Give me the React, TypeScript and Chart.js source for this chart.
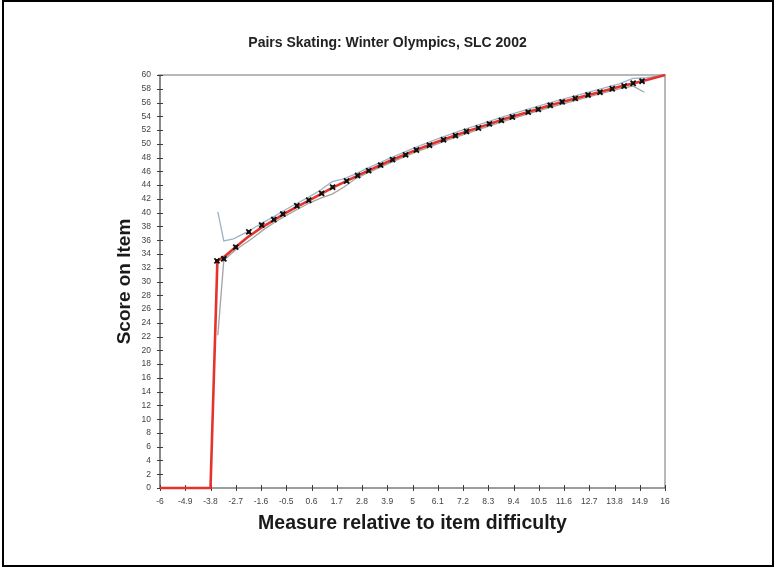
import React, { useEffect, useRef } from "react";
import { Chart, registerables } from "chart.js";

Chart.register(...registerables);

const chartTitle = "Pairs Skating: Winter Olympics, SLC 2002";
const xAxisTitle = "Measure relative to item difficulty";
const yAxisTitle = "Score on Item";

const xTickValues = [-6, -4.9, -3.8, -2.7, -1.6, -0.5, 0.6, 1.7, 2.8, 3.9, 5, 6.1, 7.2, 8.3, 9.4, 10.5, 11.6, 12.7, 13.8, 14.9, 16];
const yMin = 0;
const yMax = 60;
const yStep = 2;

// model (expected score) curve
const modelX = [-6, -3.8, -3.5, -3.2, -2.7, -2.2, -1.6, -1, -0.5, 0, 0.5, 1, 1.5, 2, 3, 4, 5, 6, 7, 8, 9, 10, 11, 12, 13, 14, 15, 16];
const modelY = [0, 0, 33.0, 33.6, 35.0, 36.4, 37.8, 39.0, 40.0, 40.9, 41.8, 42.7, 43.6, 44.4, 46.0, 47.5, 48.9, 50.2, 51.4, 52.5, 53.6, 54.6, 55.6, 56.5, 57.4, 58.3, 59.1, 60];

// observed averages
const obsX = [-3.52, -3.22, -2.7, -2.13, -1.57, -1.04, -0.65, -0.04, 0.48, 1.04, 1.52, 2.13, 2.61, 3.09, 3.61, 4.13, 4.7, 5.17, 5.74, 6.35, 6.87, 7.35, 7.87, 8.35, 8.87, 9.35, 10.04, 10.48, 11.0, 11.52, 12.09, 12.65, 13.17, 13.7, 14.22, 14.61, 15.0];
const obsY = [33.0, 33.3, 35.0, 37.2, 38.2, 39.0, 39.8, 41.0, 41.8, 42.8, 43.7, 44.6, 45.4, 46.1, 46.9, 47.7, 48.4, 49.1, 49.8, 50.6, 51.2, 51.8, 52.3, 52.9, 53.4, 53.9, 54.6, 55.0, 55.6, 56.1, 56.6, 57.1, 57.5, 58.0, 58.4, 58.8, 59.1];

// upper confidence line
const upperX = [-3.48, -3.22, -2.8, -2.2, -1.5, -1, -0.5, 0, 0.5, 1, 1.5, 2, 2.5, 3, 4, 5, 6, 7, 8, 9, 10, 11, 12, 13, 14, 14.6, 15.2, 16];
const upperY = [40.1, 35.9, 36.2, 37.2, 38.6, 39.5, 40.5, 41.4, 42.3, 43.3, 44.5, 44.9, 45.6, 46.4, 47.9, 49.3, 50.6, 51.8, 52.9, 54.0, 55.0, 56.0, 56.9, 57.8, 58.7, 59.5, 59.6, 60];

// lower confidence line
const lowerX = [-3.48, -3.22, -2.7, -2, -1.5, -1, -0.5, 0, 0.5, 1, 1.5, 2, 2.5, 3, 4, 5, 6, 7, 8, 9, 10, 11, 12, 13, 14, 14.6, 15.1];
const lowerY = [22.2, 33.1, 34.6, 36.2, 37.5, 38.6, 39.6, 40.5, 41.4, 42.1, 42.7, 43.7, 44.9, 45.7, 47.2, 48.6, 49.9, 51.1, 52.2, 53.3, 54.3, 55.3, 56.2, 57.1, 58.0, 58.4, 57.5];

const toPoints = (xs: number[], ys: number[]) => xs.map((x, i) => ({ x, y: ys[i] }));

const FONT = "Arial, 'Liberation Sans', sans-serif";

const framePlugin = {
  id: "frameTicks",
  beforeDatasetsDraw(chart: any) {
    const { ctx, chartArea, scales } = chart;
    const { left, right, top, bottom } = chartArea;
    ctx.save();
    ctx.strokeStyle = "#b8b8b8";
    ctx.lineWidth = 2;
    ctx.beginPath();
    ctx.moveTo(left - 2, top);
    ctx.lineTo(right, top);
    ctx.lineTo(right, bottom);
    ctx.stroke();
    ctx.strokeStyle = "#3c3c3c";
    ctx.lineWidth = 1.2;
    ctx.beginPath();
    ctx.moveTo(left, top);
    ctx.lineTo(left, bottom);
    ctx.lineTo(right, bottom);
    ctx.stroke();
    ctx.lineWidth = 1;
    ctx.beginPath();
    scales.y.ticks.forEach((t: any) => {
      const py = Math.round(scales.y.getPixelForValue(t.value)) + 0.5;
      ctx.moveTo(left - 3, py);
      ctx.lineTo(left + 3, py);
    });
    scales.x.ticks.forEach((t: any) => {
      const px = Math.round(scales.x.getPixelForValue(t.value)) + 0.5;
      ctx.moveTo(px, bottom - 3);
      ctx.lineTo(px, bottom + 3);
    });
    ctx.stroke();
    ctx.restore();
  },
};

export default function App() {
  const canvasRef = useRef<HTMLCanvasElement | null>(null);

  useEffect(() => {
    const canvas = canvasRef.current;
    if (!canvas) return;
    const chart = new Chart(canvas, {
      type: "scatter",
      data: {
        datasets: [
          {
            label: "upper",
            data: toPoints(upperX, upperY),
            order: 4,
            showLine: true,
            borderColor: "#9fb3c6",
            borderWidth: 1.3,
            pointRadius: 0,
            tension: 0,
          },
          {
            label: "lower",
            data: toPoints(lowerX, lowerY),
            order: 3,
            showLine: true,
            borderColor: "#a3a3a3",
            borderWidth: 1.3,
            pointRadius: 0,
            tension: 0,
          },
          {
            label: "model",
            data: toPoints(modelX, modelY),
            order: 2,
            showLine: true,
            borderColor: "#e4332b",
            borderWidth: 2.6,
            pointRadius: 0,
            tension: 0,
            clip: false,
          },
          {
            label: "observed box",
            data: toPoints(obsX, obsY),
            order: 1,
            showLine: false,
            pointStyle: "rect",
            pointRadius: 2.6,
            pointBorderWidth: 0,
            pointBackgroundColor: "#151515",
          },
          {
            label: "observed",
            data: toPoints(obsX, obsY),
            order: 0,
            showLine: false,
            pointStyle: "crossRot",
            pointRadius: 3.6,
            pointBorderWidth: 1.8,
            pointBorderColor: "#111111",
            pointBackgroundColor: "#111111",
          },
        ],
      },
      options: {
        responsive: false,
        animation: false,
        layout: { padding: 0 },
        plugins: {
          legend: { display: false },
          tooltip: { enabled: false },
          title: {
            display: true,
            text: chartTitle,
            color: "#222222",
            font: { family: FONT, size: 14, weight: "bold", lineHeight: 1.2 },
            padding: { top: 35, bottom: 23.2 },
          },
        },
        scales: {
          x: {
            type: "linear",
            min: xTickValues[0],
            max: xTickValues[xTickValues.length - 1],
            afterBuildTicks: (scale: any) => {
              scale.ticks = xTickValues.map((v) => ({ value: v }));
            },
            afterFit: (scale: any) => {
              scale.height = 80;
            },
            grid: { display: false, drawTicks: false },
            border: { display: false },
            ticks: {
              autoSkip: false,
              maxRotation: 0,
              padding: 9,
              color: "#444444",
              font: { family: FONT, size: 8.5 },
              callback: (v: any) => String(Math.round(Number(v) * 10) / 10),
            },
            title: {
              display: true,
              text: xAxisTitle,
              color: "#1a1a1a",
              font: { family: FONT, size: 19.5, weight: "bold", lineHeight: 1.2 },
              padding: { top: 0, bottom: 32.3 },
            },
          },
          y: {
            type: "linear",
            position: "left",
            min: yMin,
            max: yMax,
            afterFit: (scale: any) => {
              scale.width = 160;
            },
            grid: { display: false, drawTicks: false },
            border: { display: false },
            ticks: {
              stepSize: yStep,
              autoSkip: false,
              padding: 9,
              color: "#444444",
              font: { family: FONT, size: 8.5 },
            },
            title: {
              display: true,
              text: yAxisTitle,
              color: "#1a1a1a",
              font: { family: FONT, size: 19, weight: "bold", lineHeight: 1.2 },
              padding: { top: 113, bottom: 0 },
            },
          },
          yRight: {
            type: "linear",
            position: "right",
            min: yMin,
            max: yMax,
            afterFit: (scale: any) => {
              scale.width = 110;
            },
            grid: { display: false, drawTicks: false },
            border: { display: false },
            ticks: { display: false },
          },
        },
      },
      plugins: [framePlugin],
    } as any);
    return () => chart.destroy();
  }, []);

  return (
    <div style={{ position: "fixed", left: 0, top: 0, width: 775, height: 568, background: "#ffffff" }}>
      <canvas ref={canvasRef} width={775} height={568} style={{ position: "absolute", left: 0, top: 0, width: 775, height: 568 }} />
      <div
        style={{
          position: "absolute",
          left: 2,
          top: 0,
          width: 772,
          height: 567,
          boxSizing: "border-box",
          border: "2px solid #000000",
          pointerEvents: "none",
        }}
      />
    </div>
  );
}
